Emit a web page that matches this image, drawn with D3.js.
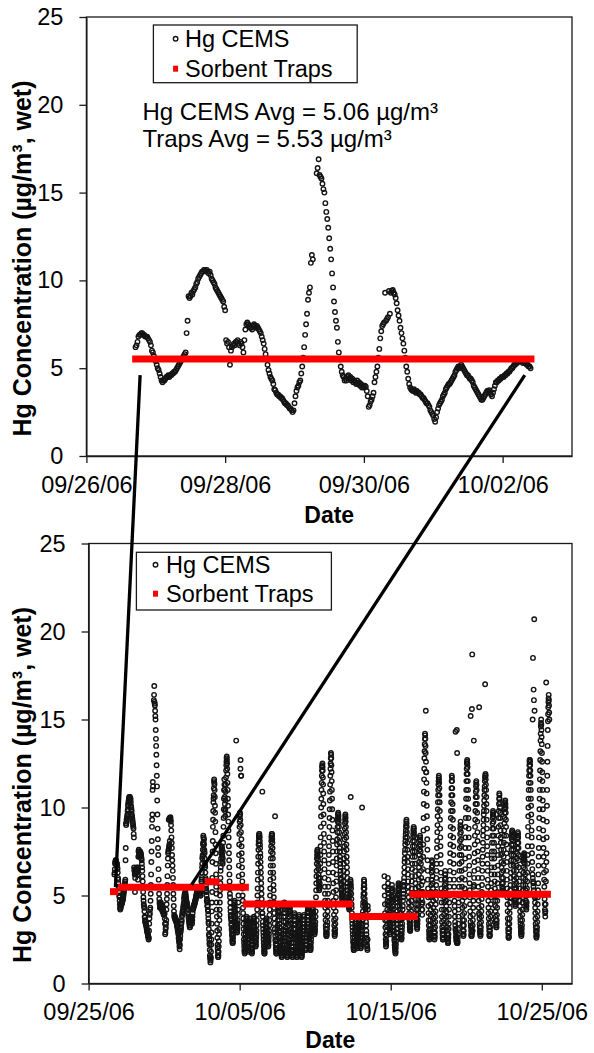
<!DOCTYPE html>
<html><head><meta charset="utf-8">
<script src="https://cdn.jsdelivr.net/npm/d3@7"></script>
<style>
body{margin:0;background:#fff}
svg text{font-family:"Liberation Sans",Arial,sans-serif;fill:#000}
</style></head><body>
<svg id="chart" width="594" height="1053"></svg>
<script>
// ---------------- DATA ----------------
// Hg CEMS readings, week 1 (20-minute readings starting at cemsFineStart)
const cemsFineStart = "2006-09-26 17:00";
const cemsFine = [
6.2,6.3,6.5,6.8,6.9,6.9,7.0,7.0,6.9,6.9,6.8,6.8,6.8,6.7,6.6,6.5,6.3,6.0,
5.9,5.7,5.5,5.4,5.2,5.0,4.9,4.7,4.5,4.3,4.2,4.3,4.3,4.4,4.5,4.5,4.6,4.5,
4.6,4.6,4.7,4.7,4.8,4.8,4.9,5.0,5.1,5.2,5.3,5.4,5.5,5.6,5.7,5.8,5.9,7.0,
7.7,9.1,9.0,9.1,9.3,9.2,9.4,9.5,9.6,9.8,9.9,10.1,10.2,10.3,10.4,10.5,10.5,10.6,
10.6,10.5,10.6,10.5,10.4,10.5,10.3,10.1,10.0,9.9,9.8,9.6,9.5,9.4,9.3,9.2,9.1,9.0,
8.9,8.8,8.5,8.3,6.6,6.4,6.5,6.2,5.2,6.0,6.2,6.3,6.4,6.3,6.5,6.5,6.6,6.4,
6.3,6.5,6.4,6.2,5.9,6.6,7.2,7.5,7.6,7.5,7.4,7.3,7.3,7.2,7.4,7.5,7.4,7.3,
7.4,7.3,7.2,7.1,7.0,6.8,6.6,6.4,6.1,5.8,5.5,5.2,4.9,4.7,4.5,4.4,4.3,4.1,
3.8,3.75,3.6,3.5,3.5,3.4,3.4,3.3,3.3,3.2,3.1,3.0,3.0,2.9,2.9,2.8,2.7,2.7,
2.6,2.5,2.6,3.0,3.4,3.7,3.9,4.0,4.2,4.3,4.7,5.1,5.6,6.2,6.9,7.5,8.1,8.9,
9.3,9.6,11.0,11.45,11.2,null,null,null,16.1,16.4,16.9,16.0,15.9,15.8,15.5,15.2,15.0,14.4,
13.9,13.5,13.0,12.4,11.8,11.2,10.4,9.6,8.8,8.2,7.7,7.3,6.5,5.9,5.5,5.1,4.8,4.6,
4.5,4.3,4.4,4.3,4.5,4.6,4.4,4.5,4.3,4.4,4.2,4.3,4.2,4.1,4.3,4.1,4.2,4.0,
4.1,3.9,4.0,3.9,4.0,3.95,3.7,3.4,2.8,2.9,3.1,3.2,3.4,3.6,4.2,4.5,4.8,5.1,
5.6,6.1,6.7,7.1,7.4,7.5,7.6,9.3,7.7,7.8,7.9,9.4,8.1,9.3,9.4,9.45,9.3,9.2,
9.0,8.7,8.3,8.0,7.7,7.3,7.0,6.7,6.4,6.0,5.6,5.1,4.8,4.4,4.1,3.9,3.8,3.75,
3.7,3.8,3.7,3.6,3.7,3.6,3.6,3.5,3.5,3.4,3.3,3.3,3.2,3.1,3.0,3.0,2.9,2.8,
2.6,2.5,2.4,2.3,2.1,1.95,2.2,2.5,2.7,2.9,3.0,3.1,3.2,3.4,3.5,3.6,3.8,3.9,
4.0,4.1,4.1,4.2,4.3,4.4,4.5,4.6,4.8,4.9,5.0,5.1,5.0,5.1,5.2,5.1,5.0,4.9,
4.8,4.7,4.6,4.6,4.5,4.4,4.4,4.3,4.2,4.0,3.9,3.8,3.7,3.6,3.5,3.4,3.3,3.2,
3.2,3.3,3.4,3.5,3.6,3.7,3.7,3.75,3.6,3.5,3.4,3.6,3.8,4.0,4.2,4.2,4.3,4.3,
4.4,4.4,4.5,4.5,4.5,4.6,4.6,4.7,4.7,4.8,4.8,4.9,5.0,5.0,5.1,5.2,5.2,5.3,
5.3,5.4,5.4,5.4,5.4,5.4,5.3,5.4,5.3,5.3,5.2,5.2,5.1,5.1,5.0
];
// Hg CEMS readings after week 1 (15-minute readings, each row starts at its own time)
const cemsLaterDays = [
["2006-10-02 10:00",[5.0,5.3,5.2,5.2,5.5,5.8,5.9,6.0,6.3,6.6,6.8,7.1,7.2,7.3,7.6,7.9,8.0,8.4,8.3,8.0,8.2,8.2,7.9,7.6,7.5,7.4,7.1,6.8,6.7,6.6,6.3,6.0,5.9,5.9,5.6,5.4,5.3,5.2,5.0,4.7,4.7,4.8,4.6,4.4,4.4,4.4,4.2,4.1,3.9,3.7,3.5,3.4,3.1,2.8,2.7,2.5]],
["2006-10-03 00:00",[2.3,2.2,1.9,1.6,1.5,1.4,1.2,1.3,1.4,1.5,1.8,2.2,2.5,2.9,3.4,4.1,4.6,5.2,6.0,6.9,7.5,8.1,8.9,9.3,9.8,10.3,10.5,10.7,11.1,11.5,11.6,11.4,11.3,11.0,10.6,10.1,9.7,9.2,8.6,7.9,7.4,6.8,6.2,5.5,5.1,4.6,4.2,3.8,3.4,3.0,2.6,2.2,2.0,1.8,1.6,1.5,1.5,1.6,1.8,2.1,2.4,2.8,3.1,3.6,3.9,4.2,4.6,5.0,5.3,5.7,6.0,6.4,6.6,6.9,7.1,7.4,7.5,7.7,7.8,7.7,7.6,7.3,7.2,6.9,6.8,7.1,7.5,8.0,8.4,8.9,9.4,9.9,10.5,11.0,11.6,11.3]],
["2006-10-04 00:00",[11.0,10.6,10.2,9.8,9.5,9.9,10.4,10.9,11.3,11.7,12.1,12.4,12.6,12.8,12.9,12.7,12.5,12.2,11.9,11.4,11.0,10.5,10.1,9.6,9.2,8.7,8.3,7.8,7.4,7.0,6.6,6.2,5.8,5.4,5.1,4.9,4.6,4.3,4.1,3.9,3.8,3.7,3.6,3.4,3.3,3.1,3.0,2.8,2.7,2.5,2.4,2.3,2.3,2.4,2.6,2.8,3.0,3.2,3.5,3.8,4.0,4.2,4.4,4.6,4.7,4.5,4.3,4.1,3.9,3.7,3.6,3.5,3.4,3.4,13.8,3.3,3.3,3.2,3.1,3.0,2.9,3.0,3.2,3.4,3.6,3.9,4.2,4.6,5.0,5.5,6.1,6.7,7.3,7.9,8.5,8.9]],
["2006-10-05 00:00",[9.2,9.5,9.7,9.6,9.3,12.2,12.7,9.0,8.6,11.8,11.8,8.2,7.8,7.4,7.0,6.6,6.2,5.8,5.4,5.0,4.7,4.3,4.0,3.7,3.4,3.1,2.8,2.5,2.3,2.1,1.9,1.8,1.7,1.8,2.0,2.2,2.4,2.6,2.8,3.0,3.2,3.4,3.6,3.7,3.8,3.7,3.5,3.3,3.1,2.9,2.7,2.5,2.3,2.1,2.0,1.9,1.8,1.9,2.1,2.3,2.5,2.7,2.9,3.1,3.3,3.5,3.7,3.6,3.4,3.2,3.0,2.8,2.6,2.4,2.2,2.0,1.9,1.8,1.7,1.8,2.0,2.2,2.4,2.6,2.8,3.0,3.2,3.4,3.6,3.7,3.8,3.7,3.5,3.3,3.2,3.0]],
["2006-10-06 00:00",[2.9,2.7,2.6,2.4,2.3,2.2,2.1,2.2,2.4,2.6,2.8,3.0,3.3,3.6,3.9,4.2,4.6,5.0,5.4,5.9,6.3,6.8,7.2,7.6,7.9,8.1,8.3,8.4,8.5,8.5,8.4,8.3,8.1,7.9,7.7,7.4,7.2,6.9,6.6,6.3,6.0,5.7,5.4,5.1,4.8,4.5,4.3,4.0,10.9,4.0,3.8,3.5,3.3,3.1,2.9,2.7,2.5,2.3,2.1,1.9,1.8,1.7,1.7,1.8,2.0,2.2,2.4,2.6,2.8,3.0,3.2,3.4,3.5,3.6,3.7,3.6,3.4,3.2,3.1,2.9,2.8,2.6,2.5,2.4,2.3,2.2,2.1,2.2,2.4,2.6,2.8,3.0,3.3,3.6,3.9,4.2]],
["2006-10-07 00:00",[4.6,5.0,5.4,5.9,6.3,6.7,7.1,7.5,7.8,8.1,8.3,8.4,8.5,8.5,8.4,8.2,8.0,7.7,7.4,7.1,6.7,6.3,6.0,5.6,5.3,4.9,4.6,4.3,4.0,3.7,3.4,3.1,2.9,9.5,2.7,2.5,2.4,2.2,2.0,1.9,1.8,1.7,1.7,1.8,2.0,2.2,2.5,2.8,3.1,3.3,3.6,3.9,4.1,4.3,4.5,4.4,4.3,4.1,4.0,3.8,3.6,3.4,3.2,3.0,2.9,2.7,2.6,2.4,2.3,2.1,2.0,1.9,1.8,1.7,1.6,1.5,1.5,1.6,1.7,1.8,2.0,2.2,2.4,2.6,2.8,3.0,3.3,3.5,3.8,4.0,4.3,4.5,4.6,4.5,4.4,4.2]],
["2006-10-08 00:00",[4.0,3.8,3.5,3.2,3.0,2.8,2.6,2.4,2.2,2.0,1.9,1.8,1.7,1.6,1.5,1.5,1.6,1.7,1.9,2.1,2.3,2.5,2.8,3.0,3.3,3.5,3.8,4.0,4.2,4.4,4.5,4.4,4.3,4.1,3.9,3.6,3.4,3.1,2.9,2.7,2.5,2.3,2.1,1.9,1.8,1.7,1.6,1.5,1.5,1.6,1.7,1.9,2.1,2.3,2.6,2.8,3.1,3.3,3.6,3.8,4.0,3.9,3.8,3.6,3.4,3.1,2.9,2.7,2.5,2.3,2.1,1.9,1.8,1.7,1.6,1.5,1.5,1.6,1.7,1.8,2.0,2.2,2.4,2.6,2.8,3.0,3.2,3.4,3.6,3.8,3.9,3.8,3.7,3.5,3.3,3.1]],
["2006-10-09 00:00",[2.9,2.7,2.5,2.3,2.1,1.9,1.8,1.7,1.6,1.5,1.5,1.6,1.7,1.8,2.0,2.2,2.4,2.6,2.8,3.0,3.2,3.4,3.6,3.8,3.9,3.8,3.6,3.4,3.2,3.0,2.8,2.6,2.4,2.2,2.0,1.9,1.9,2.0,2.2,2.4,2.6,2.8,3.0,3.2,3.4,3.6,3.8,4.0,4.1,4.3,4.4,4.3,4.2,4.0,3.8,3.6,3.4,3.2,3.0,2.8,2.6,2.4,2.3,2.1,2.0,1.9,1.9,2.0,2.1,2.3,2.5,2.7,2.9,3.1,3.3,3.5,3.7,3.9,4.0,4.2,4.3,4.2,4.1,4.0,3.8,3.6,3.5,3.3,3.2,3.1,3.0,2.9,2.8,2.9,3.0,3.1]],
["2006-10-10 00:00",[3.3,3.5,3.8,4.1,4.5,4.9,5.3,5.7,6.1,6.4,6.8,7.1,7.3,7.5,7.6,7.5,7.4,7.2,7.0,6.7,6.5,6.2,6.0,5.8,5.6,5.4,5.3,5.4,5.5,5.7,6.0,6.4,6.8,7.3,7.8,8.3,8.9,9.5,10.0,10.5,11.0,11.4,11.8,12.1,12.3,12.4,12.5,12.3,12.1,11.7,11.3,10.8,10.2,9.6,9.1,8.5,8.0,7.5,7.0,6.5,6.0,5.5,5.1,4.7,4.3,3.9,3.6,3.3,3.1,2.9,2.8,2.7,2.7,2.8,2.9,3.1,3.3,3.5,3.8,4.1,4.4,4.7,5.1,5.5,5.9,6.3,6.8,7.3,7.8,8.3,8.9,9.4,9.9,10.4,10.9,11.3]],
["2006-10-11 00:00",[11.8,12.2,12.5,12.8,13.1,13.0,12.8,12.4,12.0,11.5,11.0,10.5,9.9,9.3,8.7,8.1,7.5,6.9,6.3,5.7,5.2,4.7,4.3,3.9,3.6,3.3,3.0,2.8,2.7,2.8,2.9,3.1,3.4,3.7,4.1,4.5,4.9,5.3,5.8,6.2,6.7,7.1,7.5,7.9,8.2,8.6,8.9,9.2,9.4,9.6,9.7,9.6,9.5,9.3,9.1,8.9,8.6,8.3,8.0,7.7,7.5,7.2,7.0,6.8,6.6,6.4,6.2,6.0,5.9,5.7,5.6,5.4,5.3,5.1,5.0,4.9,4.8,4.7,4.7,4.8,5.0,5.2,5.5,5.8,6.1,6.4,6.8,7.1,7.5,7.8,8.2,8.5,8.8,9.1,9.3,9.5]],
["2006-10-12 00:00",[9.6,9.4,9.2,8.9,8.6,8.3,7.9,7.6,7.2,6.9,6.6,6.3,6.0,5.7,5.5,5.3,5.1,4.9,4.8,4.7,4.6,4.5,4.4,4.3,4.2,4.3,4.5,4.7,5.0,5.2,5.5,5.7,5.9,5.8,10.6,5.6,5.4,5.1,4.8,4.5,4.3,4.0,3.8,3.6,3.4,3.2,3.0,2.8,2.6,2.4,2.3,2.1,2.0,1.9,1.9,2.0,2.1,2.2,2.4,2.6,2.8,3.0,3.2,3.4,3.5,3.4,3.3,3.1,3.0,2.8,2.7,2.5,2.4,2.3,2.2,2.1,2.0,2.1,2.2,2.3,2.5,2.6,2.8,2.9,3.1,3.2,3.4,3.5,3.6,3.5,3.3,3.2,3.0,2.8,2.6,2.4]],
["2006-10-13 00:00",[2.3,2.1,2.0,2.1,2.2,2.4,2.6,2.8,3.0,3.2,10.0,3.3,3.4,3.6,3.9,4.1,4.4,4.6,4.9,5.1,5.4,5.6,5.9,5.8,5.6,5.4,5.1,4.8,4.6,4.5,4.4,4.3,4.2,4.0,3.8,3.5,3.3,3.0,2.8,2.6,2.4,2.2,2.1,2.0,1.9,2.5,4.4,4.2]],
["2006-10-14 14:00",[6.1,5.5,5.0,4.5,4.0,3.6,3.2,2.8,2.5,2.3,2.1,2.2,2.4,2.7,3.0,3.3,3.6,3.9,4.2,4.5,4.7,5.3,6.0,5.7,5.4,5.1,4.9,4.6,4.4,4.1,3.9,3.7,3.5,3.3,3.1,2.9,2.8,3.0,3.2,3.4]],
["2006-10-15 00:00",[3.6,3.8,4.1,4.3,4.6,4.8,5.0,5.3,5.6,5.4,5.2,4.9,4.7,4.4,4.2,4.0,3.8,3.6,3.4,3.2,3.0,2.8,2.7,2.5,2.4,2.2,2.1,2.0,1.9,1.8,1.7,1.8,2.0,2.2,2.4,2.6,2.9,3.1,3.4,3.6,3.9,4.1,4.4,4.6,4.8,5.0,5.1,5.3,5.4,5.6,5.7,5.6,5.5,5.3,5.1,4.9,4.7,4.4,4.2,4.0,3.8,3.6,3.4,3.2,3.0,2.8,2.7,2.6,2.5,2.6,2.8,3.0,3.2,3.4,3.7,3.9,4.2,4.4,4.7,4.9,5.1,5.3,5.5,5.6,5.8,6.0,6.3,6.6,6.9,7.1,7.4,7.6,7.9,8.1,8.3,8.5]],
["2006-10-16 00:00",[8.7,8.9,9.0,9.2,9.3,9.1,8.9,8.6,8.3,8.0,7.6,7.2,6.9,6.5,6.2,5.8,5.5,5.2,4.9,4.6,4.3,4.0,3.8,3.6,3.4,3.2,3.1,3.0,3.0,3.1,3.3,3.5,3.8,4.1,4.4,4.7,5.1,5.4,5.8,6.1,6.5,6.8,7.2,7.5,7.8,8.1,8.3,8.5,8.7,8.8,8.9,8.8,8.6,8.4,8.1,7.8,7.5,7.2,6.8,6.4,6.1,5.7,5.4,5.1,4.8,4.5,4.2,3.9,3.7,3.5,3.3,3.2,3.1,3.2,3.4,3.6,3.9,4.2,4.5,4.8,5.2,5.5,5.9,6.2,6.6,6.9,7.3,7.6,7.9,8.2,8.4,8.3,8.1,7.8,7.5,7.1]],
["2006-10-17 00:00",[6.8,6.4,6.0,5.6,5.2,4.8,4.5,4.2,3.9,4.2,4.6,5.2,5.8,6.5,7.2,7.9,8.7,9.4,10.2,10.9,11.6,12.2,12.8,13.2,13.6,13.9,14.2,14.1,13.9,13.5,13.1,15.5,12.6,12.0,12.0,11.4,10.8,10.1,9.5,8.8,8.2,7.6,7.0,6.4,5.9,5.4,4.9,4.4,4.0,3.6,3.3,3.0,2.8,2.6,2.5,2.6,2.7,2.9,3.1,3.3,3.6,3.9,4.2,4.5,4.9,5.2,5.6,5.9,6.3,6.6,7.0,6.9,6.7,6.4,6.1,5.7,5.4,5.0,4.7,4.3,4.0,3.7,3.4,3.1,2.9,2.7,2.5,2.6,2.7,2.9,3.2,3.5,3.8,4.1,4.5,4.8]],
["2006-10-18 00:00",[5.2,5.6,6.0,6.4,6.8,7.2,7.7,8.1,8.6,9.0,9.5,9.9,10.3,10.7,11.0,11.3,11.5,11.7,11.8,11.6,11.4,11.1,10.7,10.3,9.8,9.3,8.8,8.3,7.8,7.3,6.8,6.3,5.9,5.4,5.0,4.6,4.2,3.8,3.5,3.2,3.0,2.8,2.6,2.5,2.5,2.6,2.8,3.0,3.3,3.6,3.9,4.2,4.6,4.9,5.3,5.6,5.9,6.2,6.4,6.2,6.0,5.7,5.4,5.0,4.7,4.4,4.1,3.8,3.5,3.2,3.0,2.8,2.6,2.5,2.4,2.3,2.3,2.4,2.6,2.8,3.1,3.4,3.8,4.2,4.6,5.0,5.5,5.9,6.4,6.9,7.4,7.9,8.4,8.9,9.4,9.8]],
["2006-10-19 00:00",[10.3,10.7,11.1,11.5,11.8,11.7,11.5,11.1,10.7,10.2,9.8,9.3,8.8,8.3,7.8,7.3,6.8,6.3,5.9,5.5,5.1,4.7,4.4,4.1,3.8,3.5,3.3,3.1,14.3,3.0,2.9,2.7,2.6,2.5,2.4,2.4,14.4,2.3,13.1,2.3,2.3,2.4,2.6,2.8,3.1,3.4,3.8,4.2,4.6,5.0,5.5,5.9,6.4,6.8,7.3,7.7,8.1,8.5,8.8,9.0,9.2,8.9,8.6,8.2,7.8,7.3,6.9,6.4,6.0,5.5,5.1,4.7,4.3,3.9,3.6,3.3,3.0,2.8,2.7,2.8,3.0,3.3,3.6,4.0,4.4,4.9,5.4,5.9,6.5,7.1,7.7,8.3,8.9,9.4,10.0,10.5]],
["2006-10-20 00:00",[11.0,11.5,11.9,12.2,12.5,12.6,12.7,12.5,12.3,11.9,11.5,11.0,10.5,9.9,9.4,8.8,8.3,7.7,7.2,6.7,6.2,5.7,5.3,4.9,4.5,4.1,3.8,3.5,15.2,3.3,3.2,3.0,2.8,2.7,2.7,2.8,15.6,2.9,18.7,3.0,3.0,3.3,3.6,3.9,4.3,4.7,5.1,5.5,13.8,5.6,6.0,6.4,6.9,7.4,7.9,8.4,8.9,9.3,9.8,10.2,10.6,10.9,11.2,11.4,11.5,11.3,11.0,10.6,10.2,9.7,9.2,8.6,8.1,7.5,7.0,6.5,6.0,5.5,5.1,4.7,4.3,4.0,15.7,3.9,3.7,3.4,3.2,3.0,2.9,2.8,2.7,2.8,3.0,3.2,3.5,3.8]],
["2006-10-21 00:00",[4.1,4.4,4.8,5.2,5.6,6.0,6.4,6.8,7.2,7.6,8.0,8.4,8.7,9.0,9.3,9.6,9.8,10.1,10.4,10.7,11.0,11.2,11.5,11.7,17.0,11.8,11.9,11.8,11.6,11.3,11.0,10.6,10.2,9.8,9.3,8.8,8.3,7.8,7.3,6.8,6.4,5.9,5.5,5.1,4.7,4.3,4.0,3.7,3.4,3.2,3.0,2.8,2.7,2.7,2.8,3.0,3.2,3.5,3.8,4.1,4.5,4.9,5.3,5.7,6.2,6.6,7.1,7.5,8.0,8.4,8.8,9.1,9.4,9.6,9.8,9.7,9.5,9.2,8.8,8.4,8.0,7.5,7.1,6.6,6.2,5.8,5.4,5.0,4.7,4.4,4.1,3.8,3.6,3.4,3.3,3.2]],
["2006-10-22 00:00",[3.2,3.4,3.6,3.9,4.3,4.7,5.2,5.7,6.2,6.7,7.3,7.8,8.4,8.9,9.4,9.8,10.2,10.5,10.8,10.7,10.5,10.3,10.0,9.7,9.4,9.0,8.7,8.3,8.0,7.6,7.3,6.9,6.6,6.3,6.0,5.7,5.5,5.3,5.1,5.2,5.4,5.7,6.0,6.4,6.8,7.2,7.6,8.0,8.4,8.7,9.1,9.4,9.7,9.9,10.1,10.3,10.4,10.2,10.0,9.7,9.3,8.9,8.4,7.9,7.4,6.9,6.4,5.9,5.4,4.9,4.5,4.1,3.7,3.4,3.1,2.9,2.7,2.6,2.6,2.7,2.9,3.1,3.4,3.7,4.0,4.3,4.6,4.9,5.3,5.6,6.0,6.3,6.7,7.0,7.3,7.6]],
["2006-10-23 00:00",[7.9,8.2,8.4,8.6,8.7,8.6,8.5,8.3,8.1,7.9,7.6,7.3,7.0,6.7,6.4,6.1,5.9,5.6,5.4,5.2,5.0,4.8,4.7,4.5,4.4,4.5,4.6,4.8,5.1,5.4,5.7,6.0,6.4,6.7,7.1,7.4,7.7,8.0,8.2,8.4,8.6,8.5,8.3,8.0,7.7,7.3,7.0,6.6,6.2,5.8,5.4,5.0,4.7,4.4,4.1,3.8,3.6,3.4,3.2,3.0,2.9,2.8,2.7,2.8,2.9,3.1,3.3,3.6,3.9,4.2,4.6,4.9,5.3,5.6,6.0,6.3,6.6,6.9,7.1,7.3,7.4,7.3,7.2,7.0,6.8,6.5,6.2,5.9,5.6,5.3,5.0,4.7,4.5,4.3,4.2,4.4]],
["2006-10-24 00:00",[4.6,5.0,5.4,5.8,6.3,6.8,7.3,7.8,8.4,8.9,9.5,10.0,10.5,11.0,11.4,11.8,12.1,12.4,12.6,12.7,12.7,12.6,12.4,12.1,11.8,11.4,11.0,10.5,10.1,9.6,9.2,8.7,8.3,7.8,7.4,6.9,6.5,6.2,15.0,6.0,18.5,5.8,5.7,5.5,16.7,5.3,16.1,5.1,20.7,5.0,15.5,4.9,4.9,4.6,4.3,4.0,3.7,3.4,3.2,3.0,2.9,2.7,2.6,2.7,2.8,3.0,3.2,3.5,3.8,4.1,4.5,4.9,5.3,5.7,6.2,6.7,7.2,7.7,8.3,8.8,9.4,9.9,10.5,11.0,11.6,12.1,12.7,13.2,13.8,14.2,14.6,14.8,15.0,14.7,14.4,14.0]],
["2006-10-25 00:00",[13.6,13.1,12.6,12.0,11.5,11.0,10.4,9.9,9.3,8.7,8.2,7.7,7.2,6.7,6.3,5.9,5.5,5.1,4.8,4.5,4.2,4.0,3.8,4.1,4.5,5.1,5.8,6.4,17.1,6.9,7.4,8.3,9.2,10.1,11.0,11.8,12.6,13.5,14.4,14.9,15.3,15.7,16.0,16.2,16.4,16.1,15.8,15.4,15.0]]
];
// Sorbent trap runs: [start, end, concentration]
const topTraps = [["2006-09-26 15:50","2006-10-02 11:00",5.53]];
const bottomTraps = [
["2006-09-26 10:00","2006-09-26 23:00",5.22],
["2006-09-26 23:00","2006-10-02 16:30",5.47],
["2006-10-02 16:30","2006-10-03 16:00",5.78],
["2006-10-03 16:00","2006-10-05 14:40",5.47],
["2006-10-05 05:00","2006-10-12 11:40",4.52],
["2006-10-12 06:00","2006-10-16 18:40",3.80],
["2006-10-16 05:30","2006-10-25 14:30",5.07]
];
// connector lines: [point in upper chart, point in lower chart] as [time, value]
const connectors = [
[["2006-09-26 18:35",4.61],["2006-09-26 18:35",5.48]],
[["2006-10-02 07:40",4.61],["2006-10-01 19:30",5.60]]
];
const topTicks = ["2006-09-26","2006-09-28","2006-09-30","2006-10-02"];
const bottomTicks = ["2006-09-25","2006-10-05","2006-10-15","2006-10-25"];
const yTicks = [0,5,10,15,20,25];
const legendLabels = ["Hg CEMS","Sorbent Traps"];
const annotations = ["Hg CEMS Avg = 5.06 µg/m³","Traps Avg = 5.53 µg/m³"];
const yTitle = "Hg Concentration (µg/m³, wet)";
const xTitle = "Date";

// ---------------- BUILD ----------------
const parse = d3.timeParse("%Y-%m-%d %H:%M");
const parseDay = d3.timeParse("%Y-%m-%d");
const fineStart = parse(cemsFineStart);
const finePts = cemsFine.map((v,i)=>({t:d3.timeMinute.offset(fineStart,20*i),v}))
  .filter(d=>d.v!=null);
const laterPts = cemsLaterDays.flatMap(([s,vals])=>{
  const t0 = parse(s);
  return vals.map((v,i)=>({t:d3.timeMinute.offset(t0,15*i),v}));
}).filter(d=>d.v!=null);

const svg = d3.select("#chart");
const FONT = '"Liberation Sans", Arial, sans-serif';
const MARK = {r:2.25, stroke:"#141414", sw:1.4};

const panels = [
 {left:86.4,right:572,top:17,bottom:456,start:"2006-09-26",end:"2006-10-03",ticks:topTicks,
  pts:finePts,traps:topTraps,titleY:258.5,dateBase:522.7,
  legend:{x:153.4,y:25,w:203.8,h:57.7,mx:175.6,tx:185,b1:46.7,b2:76.7}},
 {left:88.6,right:572,top:543.5,bottom:983.5,start:"2006-09-25",end:"2006-10-27",ticks:bottomTicks,
  pts:finePts.concat(laterPts),traps:bottomTraps,titleY:785,dateBase:1048.3,
  legend:{x:136.4,y:552.3,w:195,h:57.7,mx:155.5,tx:166,b1:572.7,b2:601.7}}
];

panels.forEach(p=>{
  p.x = d3.scaleTime().domain([parseDay(p.start),parseDay(p.end)]).range([p.left,p.right]);
  p.y = d3.scaleLinear().domain([0,25]).range([p.bottom,p.top]);
  const g = svg.append("g");

  g.append("rect").attr("x",p.left).attr("y",p.top)
   .attr("width",p.right-p.left).attr("height",p.bottom-p.top)
   .attr("fill","none").attr("stroke","#1a1a1a").attr("stroke-width",1.3);

  const ya = g.append("g").attr("transform",`translate(${p.left},0)`)
    .call(d3.axisLeft(p.y).tickValues(yTicks).tickSize(7).tickPadding(16).tickSizeOuter(0));
  const xa = g.append("g").attr("transform",`translate(0,${p.bottom})`)
    .call(d3.axisBottom(p.x).tickValues(p.ticks.map(parseDay))
      .tickFormat(d3.timeFormat("%m/%d/%y")).tickSize(7).tickPadding(13).tickSizeOuter(0));
  [ya,xa].forEach(a=>{
    a.attr("font-family",FONT).attr("font-size",23.5);
    a.selectAll("path,line").attr("stroke","#1a1a1a").attr("stroke-width",1.3);
    a.selectAll("text").attr("fill","#000");
  });

  g.append("text").attr("x",(p.left+p.right)/2).attr("y",p.dateBase)
   .attr("text-anchor","middle").attr("font-weight","bold").attr("font-size",23).text(xTitle);
  g.append("text").attr("transform",`translate(31,${p.titleY}) rotate(-90)`)
   .attr("text-anchor","middle").attr("font-weight","bold").attr("font-size",25).text(yTitle);

  g.append("g").selectAll("circle")
   .data(p.pts.filter(d=>d.t>=p.x.domain()[0] && d.t<=p.x.domain()[1]))
   .join("circle").attr("cx",d=>p.x(d.t)).attr("cy",d=>p.y(d.v)).attr("r",MARK.r)
   .attr("fill","none").attr("stroke",MARK.stroke).attr("stroke-width",MARK.sw);

  g.append("g").selectAll("line").data(p.traps).join("line")
   .attr("x1",d=>p.x(parse(d[0]))).attr("x2",d=>p.x(parse(d[1])))
   .attr("y1",d=>p.y(d[2])).attr("y2",d=>p.y(d[2]))
   .attr("stroke","#ff0000").attr("stroke-width",7);

  const L = p.legend;
  const lg = g.append("g");
  lg.append("rect").attr("x",L.x).attr("y",L.y).attr("width",L.w).attr("height",L.h)
    .attr("fill","#fff").attr("stroke","#1a1a1a").attr("stroke-width",1.3);
  lg.append("circle").attr("cx",L.mx).attr("cy",L.b1-8).attr("r",MARK.r)
    .attr("fill","none").attr("stroke",MARK.stroke).attr("stroke-width",MARK.sw);
  lg.append("rect").attr("x",L.mx-2.5).attr("y",L.b2-11).attr("width",5).attr("height",6)
    .attr("fill","#ff0000");
  lg.selectAll("text.lt").data(legendLabels).join("text").attr("class","lt")
    .attr("x",L.tx).attr("y",(d,i)=>i?L.b2:L.b1).attr("font-size",23.5).text(d=>d);
});

svg.append("g").selectAll("text").data(annotations).join("text")
  .attr("x",142.5).attr("y",(d,i)=>120+i*27).attr("font-size",24).text(d=>d);

const P0 = panels[0], P1 = panels[1];
svg.append("g").selectAll("line").data(connectors).join("line")
  .attr("x1",d=>P0.x(parse(d[0][0]))).attr("y1",d=>P0.y(d[0][1]))
  .attr("x2",d=>P1.x(parse(d[1][0]))).attr("y2",d=>P1.y(d[1][1]))
  .attr("stroke","#000").attr("stroke-width",3.3);
</script>
</body></html>
